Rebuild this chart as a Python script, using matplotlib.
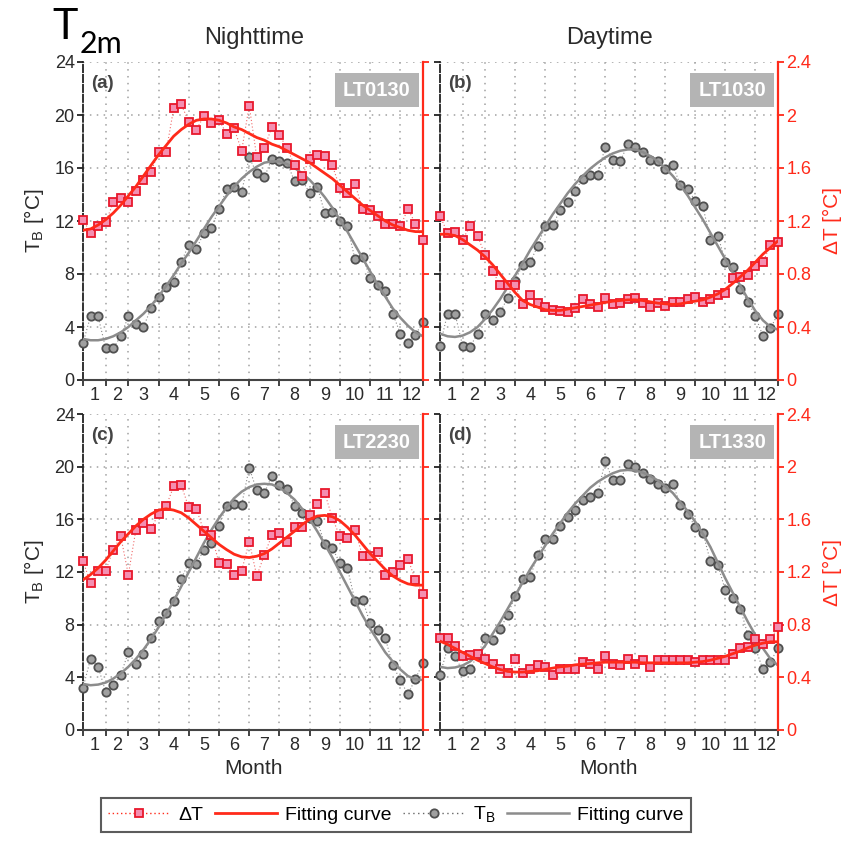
import matplotlib.pyplot as plt
from matplotlib.patches import Rectangle
from matplotlib.lines import Line2D
import numpy as np

plt.rcParams['font.family'] = ['Liberation Sans', 'DejaVu Sans']

# 46 eight-day composite periods per year
PERIODS = np.arange(1, 47)
MONTHS = [str(m) for m in range(1, 13)]
# month edges expressed in 8-day periods
MONTH_EDGES = [1, 4, 7, 11, 15, 19, 23, 27, 31, 35, 39, 43, 46]

TB_TICKS = [0, 4, 8, 12, 16, 20, 24]
DT_TICKS = [0, 0.4, 0.8, 1.2, 1.6, 2.0, 2.4]
DT_TICK_LABELS = ['0', '0.4', '0.8', '1.2', '1.6', '2', '2.4']

PANEL_LABELS = ['(a)', '(b)', '(c)', '(d)']
OVERPASS = ['LT0130', 'LT1030', 'LT2230', 'LT1330']

# LT0130
dt_0130 = [1.21, 1.11, 1.16, 1.19, 1.34, 1.37, 1.34, 1.43, 1.51, 1.57,
           1.72, 1.72, 2.05, 2.08, 1.95, 1.89, 1.99, 1.94, 1.96, 1.86,
           1.90, 1.73, 2.07, 1.68, 1.75, 1.91, 1.85, 1.75, 1.62, 1.54,
           1.67, 1.70, 1.69, 1.62, 1.45, 1.41, 1.48, 1.29, 1.28, 1.24,
           1.18, 1.18, 1.16, 1.29, 1.18, 1.06]
dt_fit_0130 = [1.13, 1.14, 1.17, 1.21, 1.26, 1.32, 1.39, 1.46, 1.54, 1.62,
               1.70, 1.77, 1.84, 1.89, 1.93, 1.96, 1.97, 1.97, 1.96, 1.94,
               1.91, 1.89, 1.86, 1.83, 1.81, 1.78, 1.76, 1.73, 1.70, 1.67,
               1.64, 1.60, 1.56, 1.52, 1.47, 1.42, 1.37, 1.32, 1.28, 1.24,
               1.20, 1.17, 1.15, 1.13, 1.12, 1.12]
tb_0130 = [2.8, 4.8, 4.8, 2.4, 2.4, 3.3, 4.8, 4.2, 4.0, 5.4,
           6.3, 7.0, 7.4, 8.9, 10.2, 9.9, 11.1, 11.5, 12.9, 14.4,
           14.6, 14.2, 16.8, 15.6, 15.3, 16.7, 16.5, 16.4, 15.0, 15.1,
           14.1, 14.6, 12.6, 12.7, 12.0, 11.6, 9.1, 9.3, 7.7, 7.2,
           6.7, 5.0, 3.5, 2.8, 3.4, 4.4]
tb_fit_0130 = [3.1, 3.0, 3.0, 3.1, 3.3, 3.6, 4.0, 4.5, 5.0, 5.6,
               6.3, 7.1, 7.9, 8.8, 9.6, 10.5, 11.4, 12.3, 13.1, 13.9,
               14.6, 15.2, 15.7, 16.1, 16.4, 16.5, 16.5, 16.3, 16.0, 15.6,
               15.1, 14.5, 13.8, 13.0, 12.1, 11.2, 10.2, 9.2, 8.2, 7.2,
               6.3, 5.4, 4.7, 4.1, 3.6, 3.3]

# LT1030
dt_1030 = [1.24, 1.11, 1.12, 1.06, 1.16, 1.09, 0.94, 0.82, 0.72, 0.72,
           0.72, 0.57, 0.64, 0.58, 0.55, 0.53, 0.52, 0.51, 0.54, 0.61,
           0.57, 0.55, 0.62, 0.57, 0.58, 0.61, 0.62, 0.58, 0.55, 0.58,
           0.56, 0.59, 0.59, 0.61, 0.63, 0.59, 0.61, 0.64, 0.66, 0.77,
           0.78, 0.79, 0.86, 0.89, 1.02, 1.04]
dt_fit_1030 = [1.10, 1.10, 1.09, 1.06, 1.02, 0.98, 0.93, 0.87, 0.80, 0.73,
               0.66, 0.60, 0.57, 0.55, 0.53, 0.525, 0.525, 0.535, 0.545, 0.555,
               0.565, 0.575, 0.585, 0.595, 0.60, 0.605, 0.605, 0.60, 0.59, 0.58,
               0.575, 0.57, 0.575, 0.585, 0.595, 0.605, 0.625, 0.65, 0.685, 0.73,
               0.78, 0.83, 0.89, 0.95, 1.00, 1.05]
tb_1030 = [2.6, 5.0, 5.0, 2.6, 2.5, 3.5, 5.0, 4.5, 5.1, 6.2,
           7.5, 8.7, 8.9, 10.1, 11.6, 11.7, 12.8, 13.4, 14.3, 15.2,
           15.5, 15.5, 17.6, 16.6, 16.5, 17.8, 17.6, 17.2, 16.6, 16.5,
           15.9, 16.2, 14.7, 14.4, 13.5, 13.1, 10.6, 10.9, 8.9, 8.5,
           6.9, 5.9, 4.8, 3.3, 3.9, 5.0]
tb_fit_1030 = [3.5, 3.3, 3.25, 3.35, 3.6, 4.0, 4.6, 5.3, 6.1, 7.0,
               7.9, 8.8, 9.8, 10.7, 11.6, 12.5, 13.3, 14.1, 14.8, 15.4,
               15.95, 16.4, 16.8, 17.1, 17.3, 17.4, 17.4, 17.2, 16.9, 16.5,
               16.0, 15.4, 14.7, 13.9, 13.0, 12.1, 11.1, 10.1, 9.1, 8.1,
               7.1, 6.1, 5.2, 4.5, 4.0, 3.8]

# LT2230
dt_2230 = [1.28, 1.12, 1.21, 1.21, 1.37, 1.47, 1.18, 1.52, 1.57, 1.53,
           1.64, 1.70, 1.85, 1.86, 1.69, 1.68, 1.51, 1.48, 1.27, 1.26,
           1.18, 1.21, 1.43, 1.17, 1.33, 1.48, 1.50, 1.43, 1.54, 1.54,
           1.63, 1.72, 1.80, 1.61, 1.47, 1.46, 1.52, 1.32, 1.32, 1.35,
           1.18, 1.20, 1.25, 1.30, 1.14, 1.03]
dt_fit_2230 = [1.14, 1.18, 1.23, 1.29, 1.36, 1.43, 1.49, 1.55, 1.60, 1.64,
               1.67, 1.68, 1.67, 1.65, 1.61, 1.56, 1.51, 1.46, 1.41, 1.37,
               1.335, 1.315, 1.31, 1.32, 1.34, 1.375, 1.42, 1.465, 1.51, 1.56,
               1.60, 1.625, 1.63, 1.62, 1.59, 1.54, 1.48, 1.41, 1.34, 1.28,
               1.22, 1.17, 1.135, 1.11, 1.10, 1.10]
tb_2230 = [3.2, 5.4, 4.8, 2.9, 3.4, 4.2, 5.9, 5.0, 5.8, 7.0,
           8.3, 8.9, 9.8, 11.5, 12.7, 12.6, 13.7, 14.2, 15.5, 17.0,
           17.2, 17.1, 19.9, 18.2, 18.0, 19.3, 18.6, 18.3, 17.0, 16.5,
           16.1, 15.9, 14.1, 13.8, 12.7, 12.3, 9.8, 9.9, 8.1, 7.6,
           7.0, 4.9, 3.8, 2.7, 3.9, 5.1]
tb_fit_2230 = [3.5, 3.4, 3.45, 3.6, 3.9, 4.3, 4.8, 5.4, 6.1, 6.9,
               7.8, 8.8, 9.8, 10.9, 12.0, 13.1, 14.2, 15.2, 16.1, 16.9,
               17.6, 18.1, 18.45, 18.65, 18.7, 18.65, 18.4, 18.0, 17.5, 16.8,
               16.0, 15.1, 14.1, 13.1, 12.0, 10.9, 9.8, 8.7, 7.7, 6.8,
               5.9, 5.2, 4.6, 4.1, 3.85, 3.8]

# LT1330
dt_1330 = [0.70, 0.70, 0.64, 0.56, 0.57, 0.575, 0.54, 0.50, 0.46, 0.43,
           0.54, 0.435, 0.46, 0.49, 0.48, 0.42, 0.46, 0.46, 0.46, 0.52,
           0.50, 0.46, 0.56, 0.50, 0.49, 0.54, 0.50, 0.53, 0.48, 0.53,
           0.53, 0.53, 0.53, 0.53, 0.52, 0.53, 0.53, 0.53, 0.53, 0.58,
           0.62, 0.63, 0.69, 0.65, 0.69, 0.78]
dt_fit_1330 = [0.675, 0.65, 0.62, 0.59, 0.56, 0.53, 0.505, 0.48, 0.46, 0.445,
               0.44, 0.44, 0.445, 0.45, 0.46, 0.47, 0.48, 0.485, 0.495, 0.50,
               0.505, 0.51, 0.515, 0.515, 0.515, 0.515, 0.515, 0.51, 0.51, 0.51,
               0.51, 0.51, 0.51, 0.51, 0.515, 0.52, 0.53, 0.545, 0.56, 0.58,
               0.60, 0.625, 0.645, 0.66, 0.67, 0.67]
tb_1330 = [4.2, 6.2, 5.6, 4.5, 4.6, 5.7, 7.0, 6.8, 7.7, 8.7,
           10.2, 11.5, 11.6, 13.3, 14.5, 14.5, 15.5, 16.2, 16.7, 17.5,
           17.7, 18.0, 20.4, 19.0, 19.0, 20.2, 20.0, 19.5, 19.1, 18.7,
           18.4, 18.7, 17.1, 16.4, 15.4, 15.0, 12.8, 12.5, 10.6, 10.0,
           9.2, 7.2, 6.2, 4.6, 5.2, 6.2]
tb_fit_1330 = [4.8, 4.7, 4.75, 4.9, 5.2, 5.7, 6.4, 7.3, 8.2, 9.2,
               10.2, 11.2, 12.2, 13.1, 14.0, 14.9, 15.7, 16.5, 17.2, 17.8,
               18.4, 18.85, 19.2, 19.5, 19.7, 19.75, 19.7, 19.55, 19.3, 18.95,
               18.5, 18.0, 17.3, 16.6, 15.8, 14.9, 13.9, 12.7, 11.5, 10.4,
               9.3, 8.2, 7.2, 6.2, 5.4, 4.9]

RED = '#ff2a1a'
RED_DOT = '#f06a6a'
SQ_FACE = '#f48fb1'
SQ_EDGE = '#e8182c'
GREY = '#8c8c8c'
CIRC_FACE = '#a0a0a0'
CIRC_EDGE = '#505050'
TXT = '#2a2a2a'
GRID = '#a0a0a0'

W, H = 856, 842


def px_box(left, top, right, bottom):
    # axes rectangle from pixel edges
    return [left / W, 1 - bottom / H, (right - left) / W, (bottom - top) / H]


def draw_panel(fig, box, tb, tb_fit, dt, dt_fit, label, overpass,
               left_labels, right_labels, show_month):
    ax = fig.add_axes(box)
    ax.set_xlim(1, 46)
    ax.set_ylim(0, 24)
    ax2 = ax.twinx()
    ax2.set_ylim(0, 2.4)

    # dotted grid, the line at 24 closes the top
    for y in TB_TICKS[1:]:
        ax.axhline(y, color=GRID, lw=1.1, ls=(0, (1, 3.5)), zorder=0)
    for x in MONTH_EDGES[1:-1]:
        ax.axvline(x, color=GRID, lw=1.1, ls=(0, (1, 3.5)), zorder=0)

    ax.spines['top'].set_visible(False)
    ax.spines['right'].set_visible(False)
    ax.spines['left'].set_linestyle((0, (4, 1.5)))
    ax.spines['left'].set_color('#222222')
    ax.spines['left'].set_linewidth(1.3)
    ax.spines['bottom'].set_color('#444444')
    ax.spines['bottom'].set_linewidth(1.5)
    for s in ['top', 'left', 'bottom']:
        ax2.spines[s].set_visible(False)
    ax2.spines['right'].set_color(RED)
    ax2.spines['right'].set_linewidth(1.6)

    # month edges get tick marks, month names sit in the middle
    mids = [(a + b) / 2 for a, b in zip(MONTH_EDGES[:-1], MONTH_EDGES[1:])]
    ax.set_xticks(MONTH_EDGES)
    ax.set_xticklabels([])
    ax.set_xticks(mids, minor=True)
    ax.set_xticklabels(MONTHS, minor=True)
    ax.tick_params(axis='x', which='major', direction='out', length=4,
                   width=1.3, color='#333333')
    ax.tick_params(axis='x', which='minor', length=0, labelsize=13,
                   labelcolor=TXT, pad=5)

    ax.set_yticks(TB_TICKS)
    ax.tick_params(axis='y', direction='out', length=4, width=1.3,
                   color='#222222', labelsize=13, labelcolor=TXT, pad=2)
    if not left_labels:
        ax.set_yticklabels([])

    ax2.set_yticks(DT_TICKS)
    ax2.tick_params(axis='y', direction='out', length=4, width=1.3,
                    color=RED, labelsize=13, labelcolor=RED, pad=2)
    if right_labels:
        ax2.set_yticklabels(DT_TICK_LABELS)
    else:
        ax2.set_yticklabels([])

    ax.plot(PERIODS, tb, ls=(0, (1, 2)), color='#888888', lw=0.8,
            marker='o', ms=6, mfc=CIRC_FACE, mec=CIRC_EDGE, mew=1.3,
            clip_on=False, zorder=3)
    ax.plot(PERIODS, tb_fit, color=GREY, lw=1.8, zorder=4)

    ax2.plot(PERIODS, dt, ls=(0, (1, 2)), color=RED_DOT, lw=0.8,
             marker='s', ms=5.8, mfc=SQ_FACE, mec=SQ_EDGE, mew=1.3,
             clip_on=False, zorder=3)
    ax2.plot(PERIODS, dt_fit, color=RED, lw=2, zorder=4)

    # overpass time badge
    ax2.add_patch(Rectangle((0.741, 0.857), 0.247, 0.108, transform=ax.transAxes,
                            fc='#b4b4b4', ec='none', zorder=6))
    ax2.text(0.8645, 0.911, overpass, transform=ax.transAxes, ha='center',
             va='center', color='white', fontsize=14.5, fontweight='bold',
             zorder=7)
    ax2.text(0.025, 0.958, label, transform=ax.transAxes, ha='left', va='top',
             color='#444444', fontsize=13.5, fontweight='bold', zorder=7)

    if left_labels:
        ax.set_ylabel('T$_\\mathregular{B}$ [°C]', fontsize=15, color=TXT,
                      labelpad=6)
    if right_labels:
        ax2.set_ylabel('ΔT [°C]', fontsize=15, color=RED, labelpad=8)
    if show_month:
        ax.set_xlabel('Month', fontsize=15, color=TXT, labelpad=4)
    return ax, ax2


fig = plt.figure(figsize=(W / 100, H / 100), dpi=100)

draw_panel(fig, px_box(83, 62, 423, 380), tb_0130, tb_fit_0130, dt_0130,
           dt_fit_0130, PANEL_LABELS[0], OVERPASS[0], True, False, False)
draw_panel(fig, px_box(440, 62, 778, 380), tb_1030, tb_fit_1030, dt_1030,
           dt_fit_1030, PANEL_LABELS[1], OVERPASS[1], False, True, False)
draw_panel(fig, px_box(83, 414, 423, 730), tb_2230, tb_fit_2230, dt_2230,
           dt_fit_2230, PANEL_LABELS[2], OVERPASS[2], True, False, True)
draw_panel(fig, px_box(440, 414, 778, 730), tb_1330, tb_fit_1330, dt_1330,
           dt_fit_1330, PANEL_LABELS[3], OVERPASS[3], False, True, True)

fig.text(254 / W, 1 - 38 / H, 'Nighttime', ha='center', va='center',
         fontsize=17, color=TXT)
fig.text(610 / W, 1 - 38 / H, 'Daytime', ha='center', va='center',
         fontsize=17, color=TXT)

# variable name in the corner
fig.text(52 / W, 1 - 27 / H, 'T', ha='left', va='center', fontsize=31,
         family='Lato', color='black')
fig.text(80 / W, 1 - 44 / H, '2m', ha='left', va='center', fontsize=22,
         family='Lato', color='black')

handles = [
    Line2D([], [], ls=(0, (1, 2)), color=RED, lw=1, marker='s', ms=6,
           mfc=SQ_FACE, mec=SQ_EDGE, mew=1.3),
    Line2D([], [], color=RED, lw=2),
    Line2D([], [], ls=(0, (1, 2.5)), color='#666666', lw=1, marker='o', ms=6,
           mfc=CIRC_FACE, mec=CIRC_EDGE, mew=1.3),
    Line2D([], [], color=GREY, lw=1.8),
]
labels = ['ΔT', 'Fitting curve', 'T$_\\mathregular{B}$', 'Fitting curve']
leg = fig.legend(handles, labels, loc='center', bbox_to_anchor=(396 / W, 1 - 815 / H),
                 ncol=4, frameon=True, fancybox=False, fontsize=14,
                 handlelength=3.2, handletextpad=0.4, columnspacing=0.6,
                 borderpad=0.35)
leg.get_frame().set_edgecolor('#333333')
leg.get_frame().set_linewidth(1.5)

fig.savefig('out.png', dpi=100)
